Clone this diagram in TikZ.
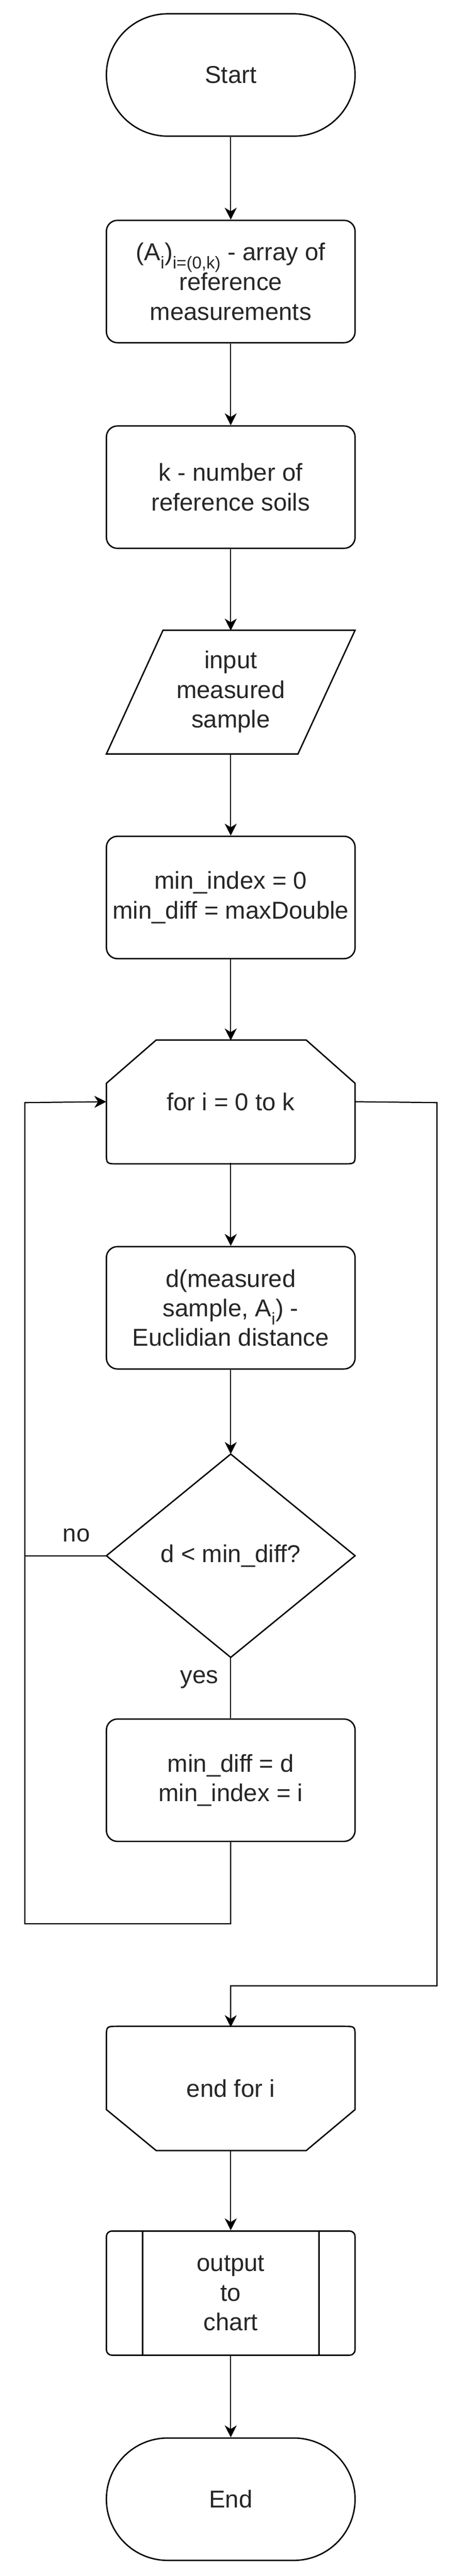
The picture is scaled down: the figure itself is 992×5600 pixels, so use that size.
\documentclass[tikz,border=0pt]{standalone}
\usepackage{fontspec}
\setmainfont{Liberation Sans}
\usetikzlibrary{arrows.meta}
\begin{document}
\begin{tikzpicture}[x=1pt,y=-1pt,
  base/.style={minimum width=540pt,minimum height=266pt,inner sep=0pt,align=center,
    font=\fontsize{53}{64}\selectfont,text=black!85},
  proc/.style={base,draw,line width=3pt,rounded corners=24pt},
  term/.style={base,draw,line width=3pt,rounded corners=133pt},
  plain/.style={base},
  shp/.style={line width=3pt,line join=miter},
  arr/.style={line width=2.5pt,-{Stealth[length=26pt,width=26pt,inset=8pt]}},
  ln/.style={line width=2.5pt},
  lbl/.style={font=\fontsize{53}{64}\selectfont,text=black!85,inner sep=0pt}]
\useasboundingbox (0,0) rectangle (992,5600);
\node[term] (start) at (501,163) {Start};
\node[proc] (arr1) at (501,612) {(A\textsubscript{i})\textsubscript{i=(0,k)} - array of\\reference\\measurements};
\node[proc] (kk) at (501,1059) {k - number of\\reference soils};
\node[plain] (inp) at (501,1504) {input\\measured\\sample};
\draw[shp] (231,1639) -- (354,1370) -- (771,1370) -- (647,1639) -- cycle;
\node[proc] (init) at (501,1951) {min\_index = 0\\min\_diff = maxDouble};
\node[plain] (loop) at (501,2395) {for i = 0 to k};
\draw[shp] (339,2261) -- (665,2261) -- (771,2355) -- (771,2506) .. controls (771,2530) .. (747,2530) -- (255,2530) .. controls (231,2530) .. (231,2506) -- (231,2355) -- cycle;
\node[proc] (dist) at (501,2843) {d(measured\\sample, A\textsubscript{i}) -\\Euclidian distance};
\node[plain,minimum height=442pt] (dia) at (501,3382) {d < min\_diff?};
\draw[shp] (501,3161) -- (771,3382) -- (501,3603) -- (231,3382) -- cycle;
\node[proc] (upd) at (501,3870) {min\_diff = d\\min\_index = i};
\node[plain] (endf) at (501,4540) {end for i};
\draw[shp] (339,4675) -- (231,4586) -- (231,4429) .. controls (231,4405) .. (255,4405) -- (747,4405) .. controls (771,4405) .. (771,4429) -- (771,4586) -- (665,4675) -- cycle;
\node[proc,rounded corners=12pt,minimum height=270pt] (out) at (501,4985) {output\\to\\chart};
\draw[line width=3pt] (310,4850) -- (310,5120) (693,4850) -- (693,5120);
\node[term] (stop) at (501,5433) {End};
\coordinate (lb) at (54,4182);
\coordinate (lt) at (54,2397);
\coordinate (rt) at (949,2397);
\coordinate (rb) at (949,4317);
\draw[arr] (start) -- (arr1);
\draw[arr] (arr1) -- (kk);
\draw[arr] (kk) -- (inp);
\draw[arr] (inp) -- (init);
\draw[arr] (init) -- (loop);
\draw[arr] (loop) -- (dist);
\draw[arr] (dist) -- (dia.north);
\draw[ln] (dia.south) -- (upd.north);
\draw[arr] (upd.south) |- (lb) -- (lt) -- (loop.west);
\draw[ln] (dia.west) -- (54,3382);
\draw[arr] (loop.east) -- (rt) -- (rb) -| (endf.north);
\draw[arr] (endf) -- (out);
\draw[arr] (out) -- (stop);
\node[lbl] (no) at (166,3338) {no};
\node[lbl] (yes) at (433,3651) {yes};
\end{tikzpicture}
\end{document}
